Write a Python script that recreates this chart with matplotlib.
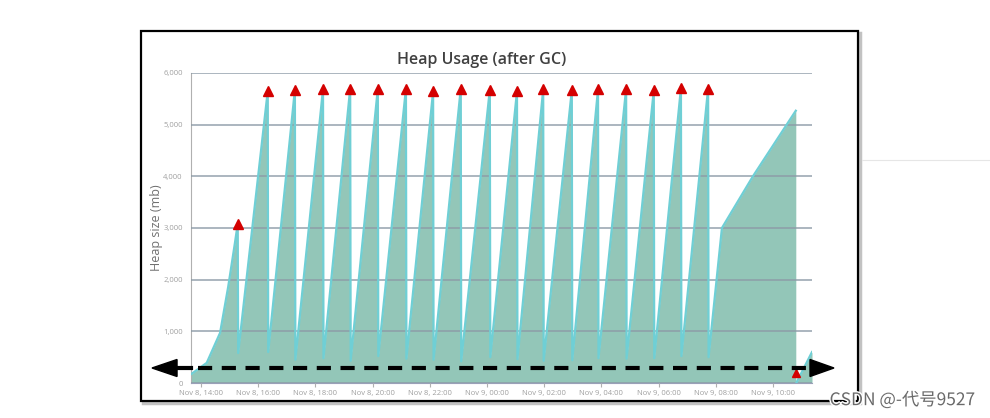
import pandas as pd
import matplotlib.pyplot as plt
import matplotlib.dates as mdates
from matplotlib.patches import Rectangle, Polygon
import matplotlib.patheffects as pe

# начальный рост до первой сборки мусора
start_times = ['2017-11-08 13:39', '2017-11-08 13:42', '2017-11-08 14:12', '2017-11-08 14:40',
               '2017-11-08 14:57', '2017-11-08 15:11']
start_values = [170, 190, 390, 970, 1860, 2700]

# пики перед каждой полной сборкой (красные треугольники)
peak_times = ['2017-11-08 15:17', '2017-11-08 16:20', '2017-11-08 17:17', '2017-11-08 18:16',
              '2017-11-08 19:13', '2017-11-08 20:11', '2017-11-08 21:10', '2017-11-08 22:07',
              '2017-11-08 23:05', '2017-11-09 00:06', '2017-11-09 01:03', '2017-11-09 01:58',
              '2017-11-09 02:58', '2017-11-09 03:53', '2017-11-09 04:52', '2017-11-09 05:50',
              '2017-11-09 06:47', '2017-11-09 07:44']
peak_values = [3080, 5650, 5680, 5690, 5700, 5700, 5700, 5650, 5700, 5680,
               5650, 5690, 5665, 5685, 5695, 5665, 5710, 5700]
# минимум сразу после сборки
trough_values = [580, 600, 450, 480, 430, 520, 470, 450, 420, 500,
                 460, 430, 440, 480, 470, 480, 520, 500]

# хвост после последнего пика
tail_times = ['2017-11-09 08:13', '2017-11-09 09:18', '2017-11-09 10:48']
tail_values = [3000, 4000, 5270]
last_gc_time = '2017-11-09 10:49'
last_gc_value = 190
end_time = '2017-11-09 11:22'
end_value = 600

# собираем одну ломаную
times = list(pd.to_datetime(start_times))
values = list(start_values)
for t, p, tr in zip(pd.to_datetime(peak_times), peak_values, trough_values):
    times += [t, t + pd.Timedelta(minutes=1)]
    values += [p, tr]
times += list(pd.to_datetime(tail_times))
values += tail_values
main = pd.Series(values, index=times)

wedge = pd.Series([0, end_value], index=pd.to_datetime([last_gc_time, end_time]))

fig = plt.figure(figsize=(9.9, 4.18), dpi=100)
plt.rcParams['font.family'] = ['Open Sans', 'DejaVu Sans']

# рамка скриншота с тенью
fig.patches.append(Rectangle((143 / 990, 1 - 403 / 418), 717 / 990, 370 / 418,
                             transform=fig.transFigure, fc='none', ec='#9a9a9a', lw=2.5,
                             alpha=0.6, zorder=-2))
fig.patches.append(Rectangle((141 / 990, 1 - 401 / 418), 717 / 990, 370 / 418,
                             transform=fig.transFigure, fc='white', ec='black', lw=1.6, zorder=-1))
fig.lines.append(plt.Line2D([862 / 990, 1], [1 - 160 / 418] * 2, transform=fig.transFigure,
                            color='#e6e6e6', lw=0.8, zorder=-1))

ax = fig.add_axes([191 / 990, 1 - 383 / 418, 621 / 990, 310 / 418])
ax.set_facecolor('none')

fill_c = '#93c6b8'
line_c = '#6fcfd5'
ax.fill_between(main.index, main.values, color=fill_c, lw=0, zorder=2)
ax.plot(main.index, main.values, color=line_c, lw=1.6, zorder=3)
ax.fill_between(wedge.index, wedge.values, color=fill_c, lw=0, zorder=2)
ax.plot(wedge.index, wedge.values, color=line_c, lw=1.6, zorder=3)

ax.plot(pd.to_datetime(peak_times), peak_values, '^', color='#d40000', ms=7, zorder=5)
ax.plot(pd.to_datetime([last_gc_time]), [last_gc_value], '^', color='#d40000', ms=6, zorder=5)

ax.set_xlim(pd.Timestamp('2017-11-08 13:39'), pd.Timestamp(end_time))
ax.set_ylim(0, 6000)
ax.set_yticks(range(0, 6001, 1000))
ax.yaxis.set_major_formatter(plt.FuncFormatter(lambda v, _: f'{v:,.0f}'))
ax.xaxis.set_major_locator(mdates.HourLocator(byhour=range(0, 24, 2)))
ax.xaxis.set_major_formatter(mdates.DateFormatter('%b %-d, %H:%M'))
ax.grid(axis='y', color='#8c9aa6', lw=1.2, alpha=0.85, zorder=4)
ax.set_axisbelow(False)
for s in ['top', 'right']:
    ax.spines[s].set_visible(False)
ax.spines['left'].set_color('#b0b0b0')
ax.spines['bottom'].set_color('#9aa0b8')
ax.tick_params(axis='y', length=0, labelsize=5.5, labelcolor='#a0a0a0', pad=6)
ax.tick_params(axis='x', length=3, color='#b0b0b0', labelsize=5.5, labelcolor='#a0a0a0', pad=2)

fig.text(482 / 990, 1 - 60 / 418, 'Heap Usage (after GC)', ha='center', va='center',
         fontsize=11.5, fontweight='semibold', color='#404040')
ax.set_ylabel('Heap size (mb)', fontsize=9, color='#707070', labelpad=0)

# пунктирная стрелка
ay = 0.0484
ax.plot([0.011, 0.994], [ay, ay], transform=ax.transAxes, color='black', lw=3,
        dashes=(3.4, 2.3), clip_on=False, zorder=6)
dy = 8.5 / 310
ax.add_patch(Polygon([(-0.0628, ay), (-0.0225, ay + dy), (-0.0225, ay - dy)],
                     transform=ax.transAxes, color='black', clip_on=False, zorder=6))
ax.add_patch(Polygon([(1.0354, ay), (0.9968, ay + dy), (0.9968, ay - dy)],
                     transform=ax.transAxes, color='black', clip_on=False, zorder=6))
ax.plot([-0.0225, 0.0], [ay, ay], transform=ax.transAxes, color='black', lw=3,
        clip_on=False, zorder=6)

fig.text(975 / 990, 1 - 400 / 418, 'CSDN @-代号9527', ha='right', va='center', fontsize=12.5,
         color='#6a6a6a', family=['Noto Sans CJK SC', 'DejaVu Sans'],
         path_effects=[pe.withStroke(linewidth=2, foreground='white')], zorder=10)

fig.savefig('out.png', dpi=100)
